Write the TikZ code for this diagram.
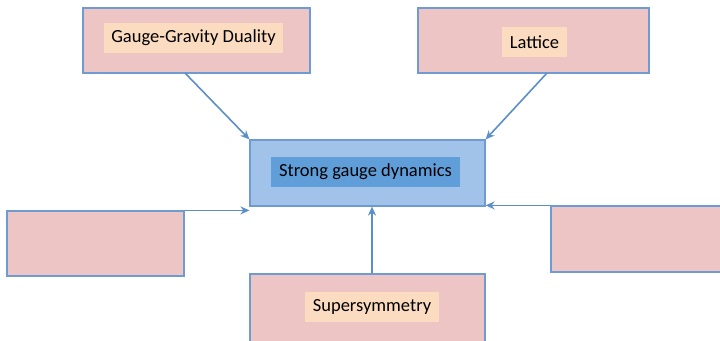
\documentclass[tikz,border=0pt]{standalone}
\usepackage{fontspec}
\setmainfont{Carlito}
\usetikzlibrary{arrows.meta}
\definecolor{boxpink}{RGB}{236,197,196}
\definecolor{boxline}{RGB}{110,156,210}
\definecolor{labpeach}{RGB}{252,220,192}
\definecolor{midblue}{RGB}{162,195,233}
\definecolor{labblue}{RGB}{96,158,218}
\definecolor{arrowblue}{RGB}{91,143,201}
\tikzset{
  topic/.style={draw=boxline, fill=boxpink, line width=1.2pt, inner sep=0pt},
  tag/.style={fill=labpeach, inner sep=0pt, font=\fontsize{18.5}{20}\selectfont},
  feed/.style={draw=arrowblue, line width=1.6pt, -{Stealth[length=9pt,width=8pt]}}
}
\begin{document}
\begin{tikzpicture}[x=1pt, y=-1pt]
        \useasboundingbox (0,0) rectangle (720,340);
        \clip (0,0) rectangle (720,340);
        \node[topic, minimum width=227pt, minimum height=65pt] (gauge) at (196.5,40.5) {};
        \node[tag, minimum width=179pt, minimum height=30pt] (gaugelab) at (193.5,38) {Gauge-Gravity Duality};
        \node[topic, minimum width=231pt, minimum height=65pt] (lattice) at (533.5,40.5) {};
        \node[tag, minimum width=65pt, minimum height=30pt] (latticelab) at (534.5,42) {Lattice};
        \node[draw=boxline, fill=midblue, line width=1.2pt, inner sep=0pt,
        minimum width=235pt, minimum height=66pt] (core) at (367.5,173) {};
        \node[fill=labblue, inner sep=0pt, minimum width=189pt, minimum height=30pt,
        font=\fontsize{18.5}{20}\selectfont] (corelab) at (365.5,172) {Strong gauge dynamics};
        \node[topic, minimum width=177pt, minimum height=65pt] (left) at (95.5,243.5) {};
        \node[topic, minimum width=172pt, minimum height=66pt] (right) at (637,239) {};
        \node[topic, minimum width=235pt, minimum height=80pt] (susy) at (367.5,314) {};
        \node[tag, minimum width=134pt, minimum height=30pt] (susylab) at (372,307) {Supersymmetry};
        \coordinate (gaugefoot) at (185,73);
        \coordinate (latticefoot) at (547,73);
        \draw[feed] (gaugefoot) -- (core.north west);
        \draw[feed] (latticefoot) -- (core.north east);
        \draw[feed] (left.north east) -- (core.south west |- left.north east);
        \draw[feed] (right.north west) -- (core.south east |- right.north west);
        \draw[feed] (susy.north -| susylab.north) -- (susylab.north |- core.south);
\end{tikzpicture}
\end{document}
